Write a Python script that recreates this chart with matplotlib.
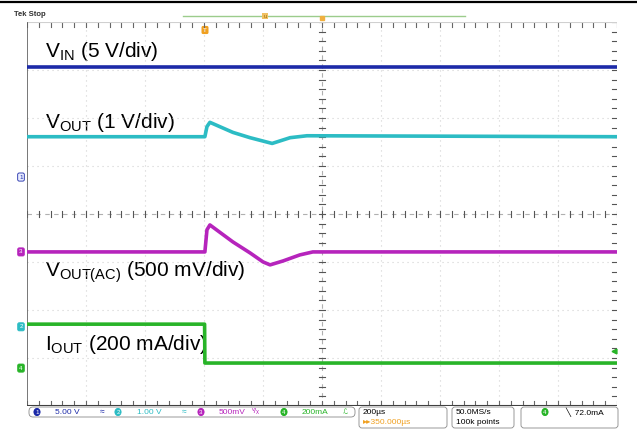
import numpy as np
import matplotlib.pyplot as plt
from matplotlib.patches import FancyBboxPatch

plt.rcParams['font.family'] = ['Liberation Sans', 'DejaVu Sans']
plt.rcParams['mathtext.fontset'] = 'custom'
plt.rcParams['mathtext.rm'] = 'Liberation Sans'
plt.rcParams['mathtext.it'] = 'Liberation Sans'

########## scope settings ##########
time_per_div = 200.0          # us
ch_scale = {1: 5.0, 2: 1.0, 3: 500.0, 4: 200.0}       # V, V, mV, mA per div
ch_pos = {1: 0.77, 2: -2.35, 3: -0.79, 4: -3.21}      # ground marker, div
ch_color = {1: '#1c2aa8', 2: '#2cbcc4', 3: '#b624bc', 4: '#28b428'}

########## captured waveforms ##########
vin_t = [-1000, 1000]
vin_v = [11.5, 11.5]

vout_t = [-1000, -397, -390, -380, -302, -244, -169, -108, -51, 1000]
vout_v = [3.96, 3.96, 4.17, 4.26, 4.05, 3.94, 3.82, 3.94, 3.98, 3.96]

vac_t = [-1000, -397, -390, -380, -302, -244, -200, -176, -132, -75, -31, 1000]
vac_mv = [0, 0, 230, 281, 104, -10, -104, -135, -94, -31, 0, 0]

iout_t = [-1000, -398, -397, 1000]
iout_ma = [183, 183, 21, 21]

trig_level_ma = 72.0

fig = plt.figure(figsize=(6.37, 4.34), dpi=100)

# overlay in pixel units for the screen furniture
ov = fig.add_axes([0, 0, 1, 1], zorder=0)
ov.set_xlim(0, 637)
ov.set_ylim(434, 0)
ov.axis('off')

# graticule axes: 10 x 8 divisions
W, H = 637.0, 434.0
ax = fig.add_axes([27 / W, (H - 406) / H, 590 / W, 384 / H], zorder=1)
ax.set_xlim(-5, 5)
ax.set_ylim(-4, 4)
ax.patch.set_alpha(0)
for s in ax.spines.values():
    s.set_visible(False)
ax.set_xticks([])
ax.set_yticks([])

########## graticule ##########
dot = (0, (1, 3.5))
for i in range(-4, 5):
    if i != 0:
        ax.plot([i, i], [-4, 4], color='#d2d2d2', lw=0.8, ls=dot)
for j in range(-3, 4):
    if j != 0:
        ax.plot([-5, 5], [j, j], color='#d2d2d2', lw=0.8, ls=dot)
ax.plot([0, 0], [-4, 4], color='#b0b0b0', lw=0.8, ls=(0, (4, 4)))
ax.plot([-5, 5], [0, 0], color='#b0b0b0', lw=0.8, ls=(0, (4, 4)))

minor_x = np.arange(-5, 5.01, 0.2)
minor_y = np.arange(-4, 4.01, 0.2)
for x in minor_x:
    ax.plot([x, x], [-0.06, 0.06], color='#555555', lw=0.8)
    ax.plot([x, x], [4, 3.9], color='#666666', lw=0.8)
    ax.plot([x, x], [-4, -3.9], color='#666666', lw=0.8)
for y in minor_y:
    ax.plot([-0.05, 0.05], [y, y], color='#555555', lw=0.8)
    ax.plot([4.92, 5], [y, y], color='#555555', lw=0.8)
ax.plot([-5, 5], [4, 4], color='#d0d0d0', lw=0.8)
ax.plot([-5, -5], [-4, 4], color='#606060', lw=1.2)
ax.plot([-5, 5], [-4, -4], color='#404040', lw=1.5)


def to_div(t, v, ch):
    return np.asarray(t) / time_per_div, ch_pos[ch] + np.asarray(v) / ch_scale[ch]


########## traces ##########
for t, v, ch in [(vin_t, vin_v, 1), (vout_t, vout_v, 2),
                 (vac_t, vac_mv, 3), (iout_t, iout_ma, 4)]:
    xd, yd = to_div(t, v, ch)
    ax.plot(xd, yd, color=ch_color[ch], lw=2.6, solid_joinstyle='round')

# trigger level marker on right edge
_, ty = to_div([0], [trig_level_ma], 4)
ax.plot([4.95], ty, marker='<', color=ch_color[4], ms=3.5)

########## channel labels ##########
lab = dict(fontsize=15, color='black', va='baseline', ha='left')
ov.text(45, 57, r'V$_\mathregular{IN}$ (5 V/div)', **lab)
ov.text(45, 128, r'V$_\mathregular{OUT}$ (1 V/div)', **lab)
ov.text(45, 277, r'V$_\mathregular{OUT(AC)}$ (500 mV/div)', **lab)
ov.text(45, 350, r'I$_\mathregular{OUT}$ (200 mA/div)', **lab)

# ground markers on the left edge
for ch in (1, 2, 3, 4):
    gy = 214 - ch_pos[ch] * 48
    fill = '#e8ecff' if ch == 1 else ch_color[ch]
    ov.text(21, gy, str(ch), fontsize=4.5, ha='center', va='center',
            color=ch_color[ch] if ch == 1 else 'white',
            bbox=dict(boxstyle='round,pad=0.25', fc=fill, ec=ch_color[ch], lw=0.6))

########## top bar ##########
ov.plot([0, 637], [2, 2], color='black', lw=1.6)
ov.text(14, 16, 'Tek Stop', fontsize=5.5, fontweight='bold', color='#303030', va='baseline')
ov.plot([183, 465], [16, 16], color='#9ccc8c', lw=1.0)
ov.text(265, 16, 'u', fontsize=4.5, ha='center', va='center', color='#a07010',
        bbox=dict(boxstyle='square,pad=0.15', fc='#f0c060', ec='none'))
ov.plot([322], [18], marker='s', ms=3, color='#f0b040')
ov.text(205, 30, 'T', fontsize=4.5, ha='center', va='center', color='white',
        bbox=dict(boxstyle='round,pad=0.25', fc='#f0a020', ec='none'))

########## status bar ##########
sb = dict(fontsize=6, va='center')
ov.add_patch(FancyBboxPatch((29, 407), 326, 10, boxstyle='round,pad=0,rounding_size=4',
                            fc='none', ec='#8a8a8a', lw=0.6))


def oval(x, y, txt, col):
    ov.text(x, y, txt, fontsize=4.5, ha='center', va='center', color='white',
            bbox=dict(boxstyle='round,pad=0.3,rounding_size=0.8', fc=col, ec='none'))


oval(37, 412, '1', ch_color[1])
ov.text(55, 412, '5.00 V', color=ch_color[1], **sb)
ov.text(100, 412, '\u2248', color=ch_color[1], **sb)
oval(118, 412, '2', ch_color[2])
ov.text(137, 412, '1.00 V', color=ch_color[2], **sb)
ov.text(182, 412, '\u2248', color=ch_color[2], **sb)
oval(201, 412, '3', ch_color[3])
ov.text(219, 412, '500mV', color=ch_color[3], **sb)
ov.text(251, 412, '\u1d5b/\u2093', color=ch_color[3], **sb)
oval(284, 412, '4', ch_color[4])
ov.text(302, 412, '200mA', color=ch_color[4], **sb)
ov.text(343, 412, '\u2112', color=ch_color[4], fontsize=5, va='center')

ov.add_patch(FancyBboxPatch((359, 407), 88, 21, boxstyle='round,pad=0,rounding_size=3',
                            fc='none', ec='#8a8a8a', lw=0.6))
ov.text(363, 412, '200\u00b5s', color='black', **sb)
ov.text(363, 423, '\u25b8\u25b8350.000\u00b5s', color='#f0a020', **sb)

ov.add_patch(FancyBboxPatch((452, 407), 62, 21, boxstyle='round,pad=0,rounding_size=3',
                            fc='none', ec='#8a8a8a', lw=0.6))
ov.text(456, 412, '50.0MS/s', color='black', **sb)
ov.text(456, 423, '100k points', color='black', **sb)

ov.add_patch(FancyBboxPatch((521, 407), 97, 21, boxstyle='round,pad=0,rounding_size=3',
                            fc='none', ec='#8a8a8a', lw=0.6))
oval(545, 412, '4', ch_color[4])
ov.text(565, 412, '\u2572  72.0mA', color='black', **sb)

fig.savefig('out.png', dpi=100)
